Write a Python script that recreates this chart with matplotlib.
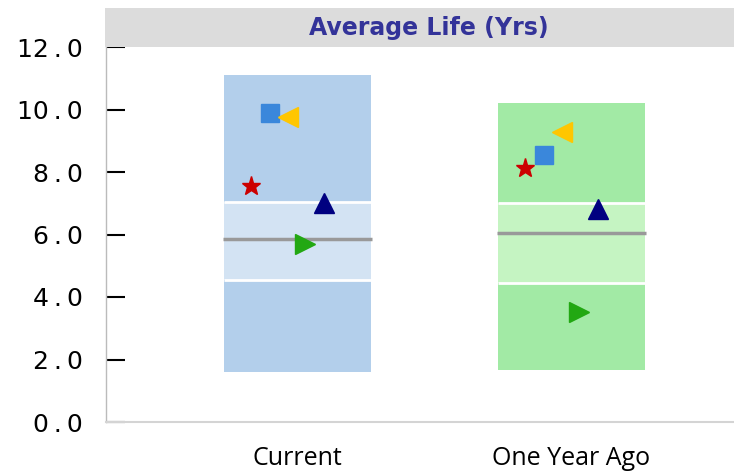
import matplotlib
matplotlib.use("Agg")
import matplotlib.pyplot as plt
from matplotlib.patches import Rectangle

# ---- data ----
categories = ["Current", "One Year Ago"]
range_low = [1.6, 1.65]
range_high = [11.1, 10.2]
q_low = [4.55, 4.45]
q_high = [7.05, 7.0]
median = [5.87, 6.05]
star_vals = [7.55, 8.13]
square_vals = [9.9, 8.54]
tri_left_vals = [9.77, 9.28]
tri_up_vals = [7.0, 6.82]
tri_right_vals = [5.7, 3.52]
yticks = [0, 2, 4, 6, 8, 10, 12]
title = "Average Life (Yrs)"

outer_colors = ["#B3CFEB", "#A2EAA5"]
inner_colors = ["#D3E3F3", "#C5F4C2"]

W, H = 734, 472
fig = plt.figure(figsize=(W / 100, H / 100), dpi=100)
ax = fig.add_axes([106 / W, 50 / H, (W - 106) / W, 375 / H])

# title band
fig.patches.append(Rectangle((105 / W, (H - 47) / H), (W - 105) / W, 39 / H,
                             transform=fig.transFigure, facecolor="#DCDCDC",
                             edgecolor="none", zorder=0))
fig.text(429 / W, (H - 28) / H, title, ha="center", va="center",
         fontsize=17, fontweight="bold", color="#333399", family="DejaVu Sans")

bw = 0.536
x = list(range(len(categories)))
ax.bar(x, [h - l for h, l in zip(range_high, range_low)], bottom=range_low,
       width=bw, color=outer_colors, edgecolor="none", zorder=1)
ax.bar(x, [h - l for h, l in zip(q_high, q_low)], bottom=q_low,
       width=bw, color=inner_colors, edgecolor="none", zorder=2)
for i in x:
    ax.hlines([q_low[i], q_high[i]], i - bw / 2, i + bw / 2, colors="white",
              linewidth=2, zorder=3)
    ax.hlines(median[i], i - bw / 2 - 0.005, i + bw / 2 + 0.005,
              colors="#999999", linewidth=2.5, zorder=4)

off = {"star": -0.168, "square": -0.102, "left": -0.035, "right": 0.026, "up": 0.097}
ax.plot([i + off["star"] for i in x], star_vals, ls="none", marker="*",
        ms=14, color="#CC0000", zorder=5)
ax.plot([i + off["square"] for i in x], square_vals, ls="none", marker="s",
        ms=13, color="#3A87DB", zorder=5)
ax.plot([i + off["left"] for i in x], tri_left_vals, ls="none", marker="<",
        ms=14.5, color="#FFC600", zorder=6)
ax.plot([i + off["right"] for i in x], tri_right_vals, ls="none", marker=">",
        ms=14.5, color="#22A812", zorder=6)
ax.plot([i + off["up"] for i in x], tri_up_vals, ls="none", marker="^",
        ms=14.5, color="#000080", zorder=6)

ax.set_xlim(-0.699, 1.593)
ax.set_ylim(0, 12)
ax.set_yticks(yticks)
ax.set_yticklabels([f"{v:.1f}".replace(".", "\u2009.\u2009") for v in yticks],
                   fontsize=18, family="DejaVu Sans")
ax.tick_params(axis="y", direction="in", length=13.5, width=1.5, color="black", pad=17)
ax.set_xticks(x)
ax.set_xticklabels(categories, fontsize=18, family="Open Sans")
ax.tick_params(axis="x", length=0, pad=17)
for s in ["top", "right"]:
    ax.spines[s].set_visible(False)
ax.spines["left"].set_color("#BBBBBB")
ax.spines["left"].set_linewidth(1)
ax.spines["bottom"].set_color("#D4D4D4")
ax.spines["bottom"].set_linewidth(1.5)
ax.patch.set_alpha(0)

fig.savefig("out.png", dpi=100)
